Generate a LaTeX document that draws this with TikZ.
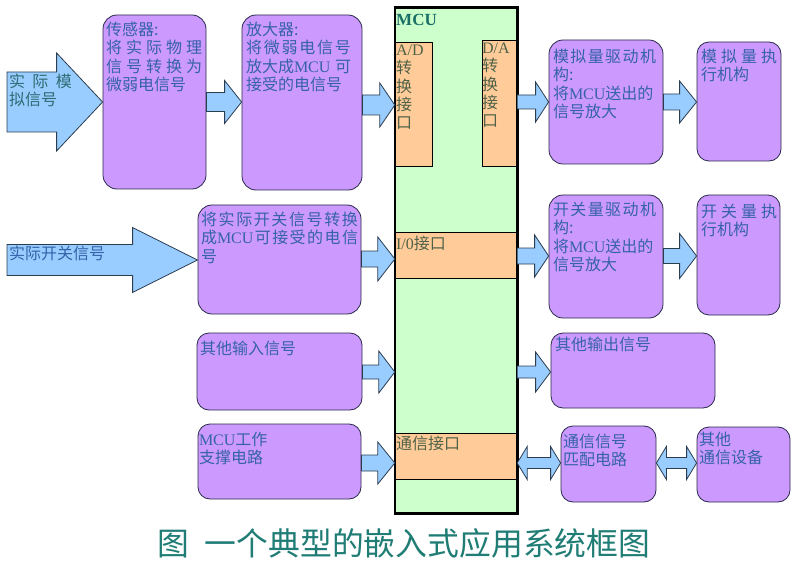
\documentclass[tikz,border=0pt]{standalone}
\usepackage{fontspec}
\setmainfont{Noto Sans CJK SC}
\newfontfamily\lat{Liberation Serif}
\usetikzlibrary{calc,fit}
\definecolor{purp}{HTML}{CC99FF}
\definecolor{arrblue}{HTML}{99CCFF}
\definecolor{mcugreen}{HTML}{CCFFCC}
\definecolor{orng}{HTML}{FFCC99}
\definecolor{txtblue}{HTML}{3562A8}
\definecolor{txtteal}{HTML}{2E6B73}
\definecolor{iotxt}{HTML}{4F6248}
\definecolor{mcutitle}{HTML}{1A6E66}
\definecolor{captxt}{HTML}{1F7D75}
\definecolor{edge}{HTML}{2A2A4A}
\definecolor{arredge}{HTML}{2B3E50}
\newcommand\blk[5]{\draw[arr] let \p1=#1, \p2=#2 in
  (\x1,{\y1+#3bp}) -- ({\x2-#5bp},{\y1+#3bp}) -- ({\x2-#5bp},{\y1+#4bp}) -- (\x2,\y1)
  -- ({\x2-#5bp},{\y1-#4bp}) -- ({\x2-#5bp},{\y1-#3bp}) -- (\x1,{\y1-#3bp}) -- cycle;}
\newcommand\dblk[5]{\draw[arr] let \p1=#1, \p2=#2 in
  (\x1,\y1) -- ({\x1+#5bp},{\y1+#4bp}) -- ({\x1+#5bp},{\y1+#3bp}) -- ({\x2-#5bp},{\y1+#3bp})
  -- ({\x2-#5bp},{\y1+#4bp}) -- (\x2,\y1) -- ({\x2-#5bp},{\y1-#4bp}) -- ({\x2-#5bp},{\y1-#3bp})
  -- ({\x1+#5bp},{\y1-#3bp}) -- ({\x1+#5bp},{\y1-#4bp}) -- cycle;}
\begin{document}
\begin{tikzpicture}[x=1bp,y=-1bp,
  pbox/.style={draw=edge, fill=purp, line width=0.8bp, rounded corners=14bp, inner sep=0pt},
  obox/.style={draw=black, fill=orng, line width=0.9bp, inner sep=0pt},
  arr/.style={draw=arredge, fill=arrblue, line width=0.8bp, line join=miter},
  txt/.style={anchor=north west, inner sep=0pt, outer sep=0pt, align=left,
    font=\fontsize{16bp}{18.3bp}\selectfont, text=txtblue},
  iot/.style={txt, text=iotxt}]
\useasboundingbox (0,0) rectangle (793,581);
\fill[white] (0,0) rectangle (793,581);

% MCU body and interface blocks
\node[fill=mcugreen, inner sep=0pt, fit={(395,8)(517,513)}] (mcu) {};
\node[obox, fit={(395,42)(432,166)}] (ad) {};
\node[obox, fit={(482,40)(517,166)}] (da) {};
\node[obox, fit={(395,232)(517,278)}] (io) {};
\node[obox, fit={(395,433)(517,479)}] (cm) {};
\draw[line width=2.6bp, black] (mcu.north west) rectangle (mcu.south east);

% purple boxes
\node[pbox, fit={(103,15)(206,189)}] (s1) {};
\node[pbox, fit={(242,15)(362,190)}] (s2) {};
\node[pbox, fit={(549,40)(663,164)}] (ad1) {};
\node[pbox, rounded corners=12bp, fit={(697,42)(781,161)}] (ae) {};
\node[pbox, fit={(198,205)(361,314)}] (sw) {};
\node[pbox, fit={(549,195)(663,318)}] (sd) {};
\node[pbox, rounded corners=12bp, fit={(697,195)(780,315)}] (se) {};
\node[pbox, rounded corners=12bp, fit={(197,333)(362,410)}] (oi) {};
\node[pbox, rounded corners=12bp, fit={(551,333)(715,408)}] (oo) {};
\node[pbox, rounded corners=12bp, fit={(198,424)(361,499)}] (ms) {};
\node[pbox, rounded corners=12bp, fit={(561,426)(656,502)}] (cs) {};
\node[pbox, rounded corners=12bp, fit={(697,427)(790,502)}] (co) {};

% row reference coordinates
\coordinate (a0) at (7,102);
\coordinate (yA) at (0,102);
\coordinate (yA3) at (0,105);
\coordinate (b0) at (7,260);
\coordinate (yB) at (0,259);
\coordinate (yB2) at (0,256);
\coordinate (yC) at (0,372);
\coordinate (yD) at (0,463);

% arrows
\blk{(a0)}{(s1.west |- a0)}{30}{49}{46}
\blk{(s1.east |- yA)}{(s2.west |- yA)}{9.5}{21.5}{17}
\blk{(s2.east |- yA3)}{(mcu.west |- yA3)}{10}{22}{15}
\blk{(mcu.east |- yA)}{(ad1.west |- yA)}{7}{20}{13}
\blk{(ad1.east |- yA)}{(ae.west |- yA)}{8}{21}{17}
\blk{(b0)}{(sw.west |- b0)}{15.5}{32.5}{65}
\blk{(sw.east |- yB)}{(mcu.west |- yB)}{8}{22}{17}
\blk{(mcu.east |- yB2)}{(sd.west |- yB2)}{8}{21}{14}
\blk{(sd.east |- yB2)}{(se.west |- yB2)}{7.5}{22.5}{17}
\blk{(oi.east |- yC)}{(mcu.west |- yC)}{7}{21}{16}
\blk{(mcu.east |- yC)}{(oo.west |- yC)}{6}{20}{15}
\blk{(ms.east |- yD)}{(mcu.west |- yD)}{8}{21}{17}
\dblk{(mcu.east |- yD)}{(cs.west |- yD)}{5.5}{16.5}{10}
\dblk{(cs.east |- yD)}{(co.west |- yD)}{5.5}{16.5}{10}

% texts
\node[txt, text=txtteal, text width=63bp] (in1) at (9,74) {实\hfill 际\hfill 模\\拟信号};
\node[txt, text width=96bp] (s1t) at (106,22) {传感器:\\将\hfill 实\hfill 际\hfill 物\hfill 理\\信\hfill 号\hfill 转\hfill 换\hfill 为\\微弱电信号};
\node[txt, text width=105bp] (s2t) at (246,22) {放大器:\\将\hfill 微\hfill 弱\hfill 电\hfill 信\hfill 号\\放大成{\lat MCU}\hfill 可\\接受的电信号};
\node[anchor=north west, inner sep=0pt, text=mcutitle, font=\lat\bfseries\fontsize{17bp}{18bp}\selectfont] (mcut) at (396,14) {MCU};
\node[iot, text width=36bp] (adt) at (396,45) {{\lat A/D}\\转\\换\\接\\口};
\node[iot, text width=36bp] (dat) at (482,43) {{\lat D/A}\\转\\换\\接\\口};
\node[txt, text width=103bp] (ad1t) at (553,49) {模\hfill 拟\hfill 量\hfill 驱\hfill 动\hfill 机\\构:\\将{\lat MCU}送出的\\信号放大};
\node[txt, text width=76bp] (aet) at (701,49) {模\hfill 拟\hfill 量\hfill 执\\行机构};
\node[txt, text width=100bp] (b0t) at (9,246) {实际开关信号};
\node[txt, text width=157bp] (swt) at (201,212) {将\hfill 实\hfill 际\hfill 开\hfill 关\hfill 信\hfill 号\hfill 转\hfill 换\\成{\lat MCU}\hfill 可\hfill 接\hfill 受\hfill 的\hfill 电\hfill 信\\号};
\node[iot, text width=110bp] (iot) at (396,236) {{\lat I/0}接口};
\node[txt, text width=103bp] (sdt) at (553,202) {开\hfill 关\hfill 量\hfill 驱\hfill 动\hfill 机\\构:\\将{\lat MCU}送出的\\信号放大};
\node[txt, text width=76bp] (set) at (701,204) {开\hfill 关\hfill 量\hfill 执\\行机构};
\node[txt, text width=150bp] (oit) at (200,341) {其他输入信号};
\node[txt, text width=150bp] (oot) at (555,337) {其他输出信号};
\node[txt, text width=150bp] (mst) at (199,432) {{\lat MCU}工作\\支撑电路};
\node[iot, text width=110bp] (cmt) at (396,436) {通信接口};
\node[txt, text width=90bp] (cst) at (563,434) {通信信号\\匹配电路};
\node[txt, text width=90bp] (cot) at (699,432) {其他\\通信设备};

% caption
\node[anchor=west, inner sep=0pt, text=captxt, font=\fontsize{31.8bp}{33bp}\selectfont] (cap) at (157,543) {图\hspace{16bp}一个典型的嵌入式应用系统框图};
\end{tikzpicture}
\end{document}
